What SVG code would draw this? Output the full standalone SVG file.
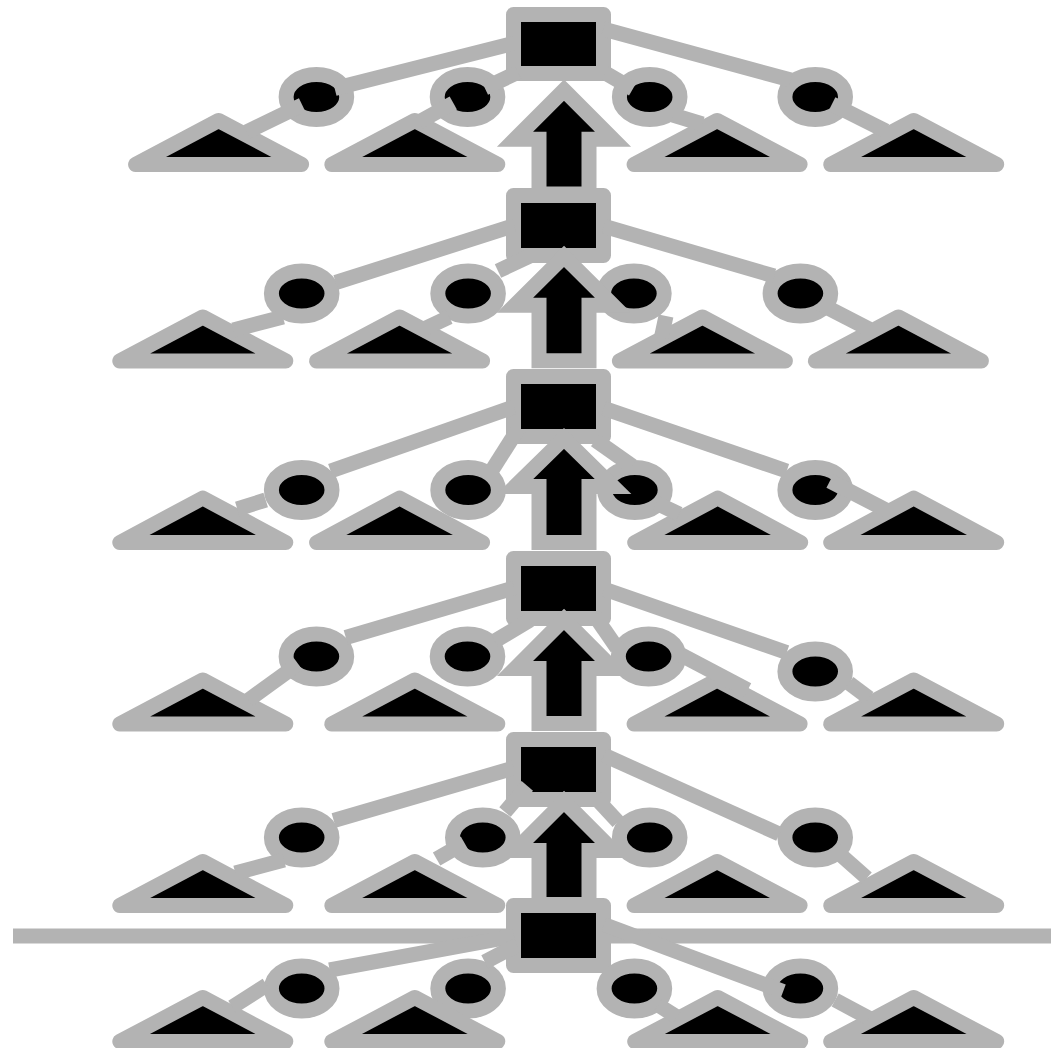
<svg xmlns="http://www.w3.org/2000/svg" width="1051" height="1048" viewBox="0 0 1051 1048">
<style>
.n{fill:#000;stroke:#b3b3b3;stroke-width:15;stroke-linejoin:round}
.a{fill:#000;stroke:#b3b3b3;stroke-width:15;stroke-linejoin:miter;stroke-miterlimit:10}
.c line,.g{stroke:#b3b3b3;stroke-width:15;stroke-linecap:butt;fill:none}
</style>
<rect width="1051" height="1048" fill="#fff"/>
<line class="g" x1="13" y1="936" x2="1051" y2="936"/>
<g id="rects">
<g id="r1"><rect class="n" x="513.5" y="14.5" width="90" height="59"/></g>
<g id="r2"><rect class="n" x="513.5" y="195.5" width="90" height="60"/></g>
<g id="r3"><rect class="n" x="513.5" y="376.5" width="90" height="60"/></g>
<g id="r4"><rect class="n" x="513.5" y="558.5" width="90" height="60"/></g>
<g id="r5"><rect class="n" x="513.5" y="739.5" width="90" height="60"/></g>
<g id="r6"><rect class="n" x="513.5" y="905.5" width="90" height="60"/></g>
</g>
<g id="ellipses">
<g id="e11"><ellipse class="n" cx="316.4" cy="97" rx="30.3" ry="22.5"/></g>
<g id="e12"><ellipse class="n" cx="467.5" cy="97" rx="30.3" ry="22.5"/></g>
<g id="e13"><ellipse class="n" cx="649.7" cy="97" rx="30.3" ry="22.5"/></g>
<g id="e14"><ellipse class="n" cx="815.2" cy="97" rx="30.3" ry="22.5"/></g>
<g id="e21"><ellipse class="n" cx="301.7" cy="293.5" rx="30.3" ry="22.5"/></g>
<g id="e22"><ellipse class="n" cx="468.1" cy="293.5" rx="30.3" ry="22.5"/></g>
<g id="e23"><ellipse class="n" cx="633.9" cy="293.5" rx="30.3" ry="22.5"/></g>
<g id="e24"><ellipse class="n" cx="800.4" cy="293.5" rx="30.3" ry="22.5"/></g>
<g id="e31"><ellipse class="n" cx="301.7" cy="490" rx="30.3" ry="22.5"/></g>
<g id="e32"><ellipse class="n" cx="468.1" cy="490" rx="30.3" ry="22.5"/></g>
<g id="e33"><ellipse class="n" cx="634.9" cy="490" rx="30.3" ry="22.5"/></g>
<g id="e34"><ellipse class="n" cx="815.2" cy="490" rx="30.3" ry="22.5"/></g>
<g id="e41"><ellipse class="n" cx="316.4" cy="656.5" rx="30.3" ry="22.5"/></g>
<g id="e42"><ellipse class="n" cx="467.5" cy="656.5" rx="30.3" ry="22.5"/></g>
<g id="e43"><ellipse class="n" cx="648.6" cy="656.5" rx="30.3" ry="22.5"/></g>
<g id="e44"><ellipse class="n" cx="815.2" cy="671.5" rx="30.3" ry="22.5"/></g>
<g id="e51"><ellipse class="n" cx="301.7" cy="837.5" rx="30.3" ry="22.5"/></g>
<g id="e52"><ellipse class="n" cx="482.8" cy="837.5" rx="30.3" ry="22.5"/></g>
<g id="e53"><ellipse class="n" cx="649.7" cy="837.5" rx="30.3" ry="22.5"/></g>
<g id="e54"><ellipse class="n" cx="815.2" cy="837.5" rx="30.3" ry="22.5"/></g>
<g id="e61"><ellipse class="n" cx="301.7" cy="988.5" rx="30.3" ry="22.5"/></g>
<g id="e62"><ellipse class="n" cx="468.1" cy="988.5" rx="30.3" ry="22.5"/></g>
<g id="e63"><ellipse class="n" cx="634.4" cy="988.5" rx="30.3" ry="22.5"/></g>
<g id="e64"><ellipse class="n" cx="800.4" cy="988.5" rx="30.3" ry="22.5"/></g>
</g>
<g id="triangles">
<g id="t11"><polygon class="n" points="218.6,120.5 135.6,164.5 301.6,164.5"/></g>
<g id="t12"><polygon class="n" points="414.8,120.5 331.8,164.5 497.8,164.5"/></g>
<g id="t13"><polygon class="n" points="717.1,120.5 634.1,164.5 800.1,164.5"/></g>
<g id="t14"><polygon class="n" points="913.7,120.5 830.7,164.5 996.7,164.5"/></g>
<g id="t21"><polygon class="n" points="202.8,317 119.8,361 285.8,361"/></g>
<g id="t22"><polygon class="n" points="399.6,317 316.6,361 482.6,361"/></g>
<g id="t23"><polygon class="n" points="702.4,317 619.4,361 785.4,361"/></g>
<g id="t24"><polygon class="n" points="898.4,317 815.4,361 981.4,361"/></g>
<g id="t31"><polygon class="n" points="202.8,498 119.8,542.5 285.8,542.5"/></g>
<g id="t32"><polygon class="n" points="399.6,498 316.6,542.5 482.6,542.5"/></g>
<g id="t33"><polygon class="n" points="717.7,498 634.7,542.5 800.7,542.5"/></g>
<g id="t34"><polygon class="n" points="913.7,498 830.7,542.5 996.7,542.5"/></g>
<g id="t41"><polygon class="n" points="202.8,680 119.8,724 285.8,724"/></g>
<g id="t42"><polygon class="n" points="414.8,680 331.8,724 497.8,724"/></g>
<g id="t43"><polygon class="n" points="717.1,680 634.1,724 800.1,724"/></g>
<g id="t44"><polygon class="n" points="913.7,680 830.7,724 996.7,724"/></g>
<g id="t51"><polygon class="n" points="202.8,861.5 119.8,905.5 285.8,905.5"/></g>
<g id="t52"><polygon class="n" points="414.8,861.5 331.8,905.5 497.8,905.5"/></g>
<g id="t53"><polygon class="n" points="717.1,861.5 634.1,905.5 800.1,905.5"/></g>
<g id="t54"><polygon class="n" points="913.7,861.5 830.7,905.5 996.7,905.5"/></g>
<g id="t61"><polygon class="n" points="202.8,997.5 119.8,1041.5 285.8,1041.5"/></g>
<g id="t62"><polygon class="n" points="414.8,997.5 331.8,1041.5 497.8,1041.5"/></g>
<g id="t63"><polygon class="n" points="717.7,997.5 634.7,1041.5 800.7,1041.5"/></g>
<g id="t64"><polygon class="n" points="913.7,997.5 830.7,1041.5 996.7,1041.5"/></g>
</g>
<g id="connectors" class="c">
<line x1="514" y1="43.2" x2="334.7" y2="88.5"/>
<line x1="518" y1="72.3" x2="484.8" y2="88"/>
<line x1="605.3" y1="73" x2="632.8" y2="89"/>
<line x1="603.2" y1="29" x2="790.9" y2="80"/>
<line x1="302.2" y1="105" x2="246.5" y2="132"/>
<line x1="453.3" y1="103" x2="418.9" y2="122"/>
<line x1="672.9" y1="115" x2="702.4" y2="124"/>
<line x1="832" y1="104" x2="885.8" y2="131"/>
<line x1="514" y1="225.7" x2="335.7" y2="282.5"/>
<line x1="530" y1="256" x2="498" y2="271"/>
<line x1="604" y1="226.3" x2="774.1" y2="276"/>
<line x1="283" y1="317" x2="233.3" y2="330"/>
<line x1="449.3" y1="317" x2="426" y2="328"/>
<line x1="666" y1="316" x2="661.3" y2="338"/>
<line x1="819.4" y1="303.5" x2="868.9" y2="329"/>
<line x1="514" y1="406.9" x2="330.6" y2="471"/>
<line x1="518.8" y1="428" x2="492.1" y2="470"/>
<line x1="595.3" y1="440" x2="632.2" y2="466"/>
<line x1="604" y1="408.4" x2="786.7" y2="471"/>
<line x1="265.7" y1="500" x2="237.3" y2="509"/>
<line x1="656" y1="503" x2="679.2" y2="514"/>
<line x1="829.9" y1="481" x2="885.8" y2="510"/>
<line x1="514" y1="587.9" x2="345.8" y2="637.5"/>
<line x1="530" y1="620" x2="494.9" y2="641"/>
<line x1="594.9" y1="616" x2="617" y2="648"/>
<line x1="604" y1="589" x2="786.7" y2="652.5"/>
<line x1="298.2" y1="664" x2="248.5" y2="700"/>
<line x1="681.3" y1="655" x2="747.7" y2="690"/>
<line x1="848.9" y1="683" x2="868.9" y2="698"/>
<line x1="514" y1="767.9" x2="333.7" y2="820.5"/>
<line x1="505" y1="812" x2="527.3" y2="785.8"/>
<line x1="594.9" y1="797" x2="618.1" y2="822"/>
<line x1="604" y1="755.2" x2="779.3" y2="834"/>
<line x1="284" y1="860" x2="235.3" y2="873"/>
<line x1="464.5" y1="843" x2="436.6" y2="859"/>
<line x1="835.2" y1="850" x2="866.8" y2="878"/>
<line x1="514" y1="936.1" x2="329.6" y2="970"/>
<line x1="517.2" y1="945" x2="484.8" y2="962"/>
<line x1="604" y1="924.4" x2="783.1" y2="991.5"/>
<line x1="266.7" y1="985" x2="232.3" y2="1007"/>
<line x1="658.1" y1="1005" x2="677.1" y2="1017"/>
<line x1="835.2" y1="1000" x2="868.9" y2="1018"/>
</g>
<g id="arrows">
<g id="a1"><polygon class="a" points="564,90.1 613,139.2 589,139.2 589,194 539,194 539,139.2 515,139.2"/></g>
<g id="a2"><polygon class="a" points="564,256.4 613,305.2 589,305.2 589,360.8 539,360.8 539,305.2 515,305.2"/></g>
<g id="a3"><polygon class="a" points="564,438.4 613,486.5 589,486.5 589,542.5 539,542.5 539,486.5 515,486.5"/></g>
<g id="a4"><polygon class="a" points="564,619.4 613,668.5 589,668.5 589,723.5 539,723.5 539,668.5 515,668.5"/></g>
<g id="a5"><polygon class="a" points="564,801.4 613,850.5 589,850.5 589,904.5 539,904.5 539,850.5 515,850.5"/></g>
</g>
</svg>
